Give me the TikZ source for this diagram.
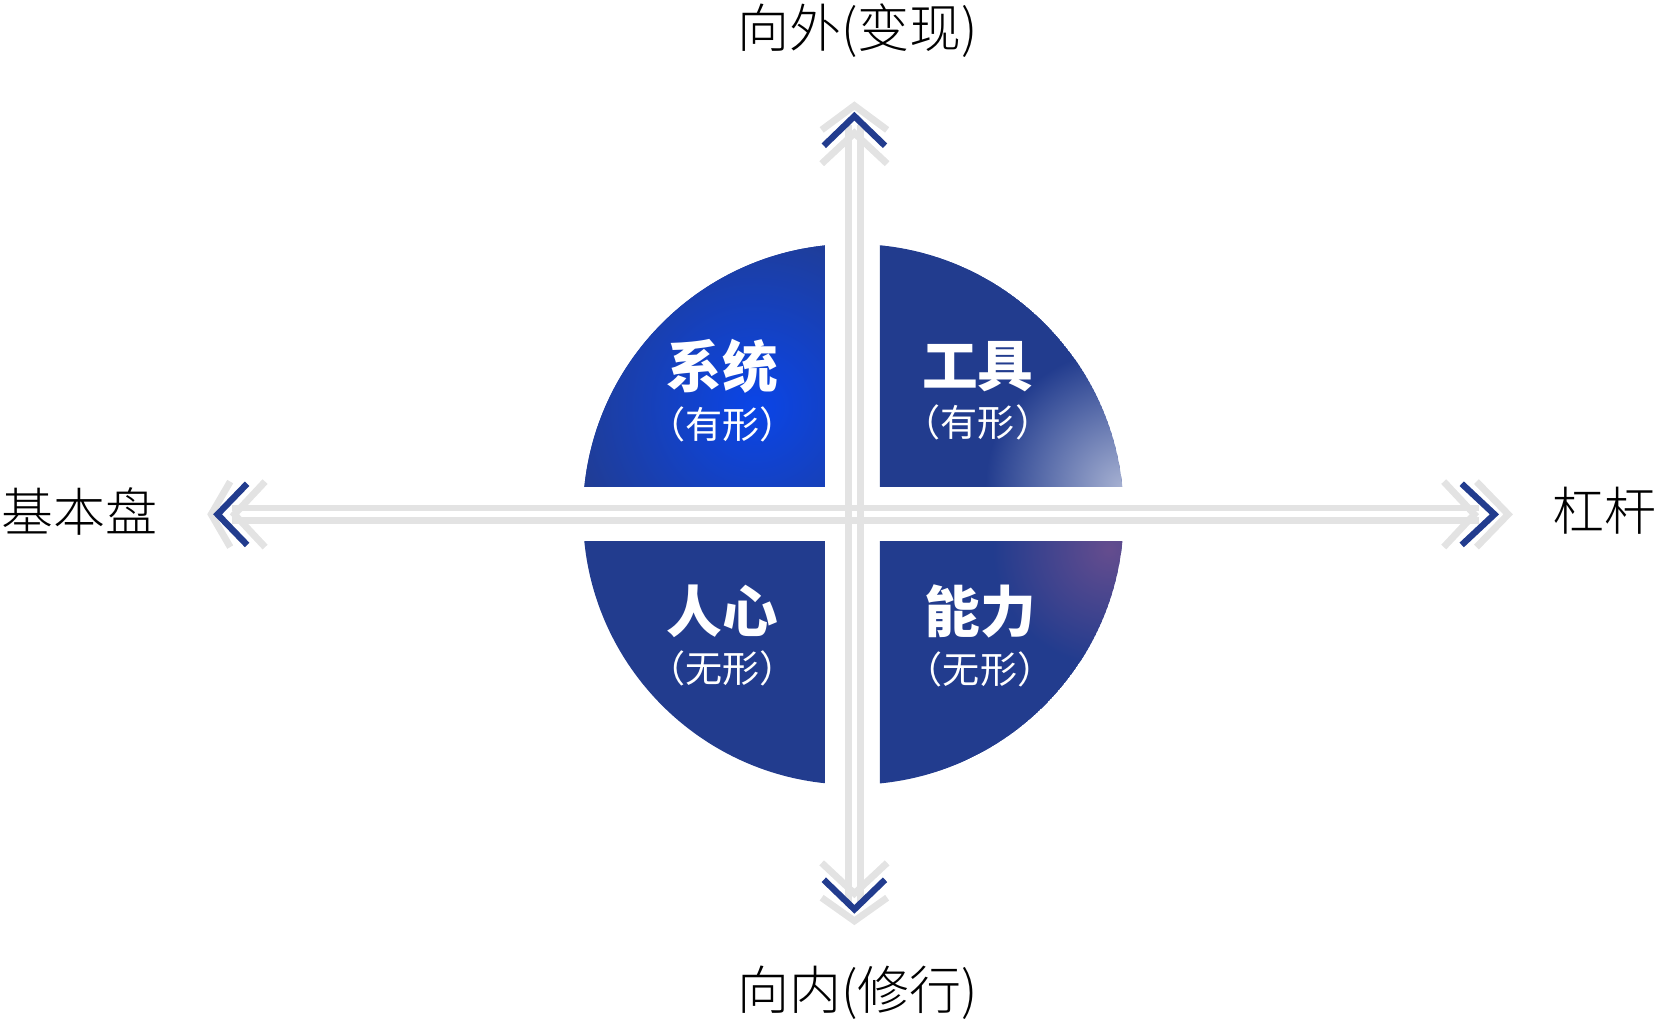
\documentclass[tikz,border=0pt]{standalone}
\usepackage{fontspec}
\setmainfont{Noto Sans CJK SC}
\newfontfamily\cjk{Noto Sans CJK SC}
\newfontfamily\cjklight{Noto Sans CJK SC Light}
\usetikzlibrary{positioning}
\definecolor{navy}{HTML}{223C8E}
\definecolor{brightblue}{HTML}{0A45E8}
\definecolor{railgray}{HTML}{E3E3E3}

\begin{document}
\begin{tikzpicture}[x=0.02cm,y=-0.02cm,
    rail/.style={railgray,line width=0.13cm},
    tipgray/.style={railgray,line width=0.13cm},
    tipblue/.style={navy,line width=0.12cm},
    axislabel/.style={font=\fontsize{28}{31}\selectfont\cjklight},
    title/.style={white,font=\fontsize{30}{33}\selectfont\bfseries\cjk},
    sub/.style={white,font=\fontsize{20}{23}\selectfont\cjk}]
    \useasboundingbox (0,0) rectangle (1568,970);

    % quadrants
    \begin{scope}
        \clip (808,487) circle [radius=256*0.02cm];
        \begin{scope}
            \clip (551,231) rectangle (781,461);
            \fill[navy] (808,487) circle [radius=256*0.02cm];
            \shade[inner color=brightblue,outer color=navy] (715,385) circle [radius=190*0.02cm];
        \end{scope}
        \begin{scope}
            \clip (833,231) rectangle (1064,461);
            \fill[navy] (808,487) circle [radius=256*0.02cm];
            \shade[inner color=navy!40!white,outer color=navy] (1063,461) circle [radius=130*0.02cm];
        \end{scope}
        \begin{scope}
            \clip (551,513) rectangle (781,744);
            \fill[navy] (808,487) circle [radius=256*0.02cm];
        \end{scope}
        \begin{scope}
            \clip (833,513) rectangle (1064,744);
            \fill[navy] (808,487) circle [radius=256*0.02cm];
            \shade[inner color=navy!75!purple!85!white,outer color=navy] (1050,520) circle [radius=110*0.02cm];
        \end{scope}
    \end{scope}

    % axes
    \coordinate (W) at (200,487);
    \coordinate (E) at (1415,487);
    \coordinate (N) at (809,100);
    \coordinate (S) at (809,872);
    \draw[rail] (220,481) -- (1400,481);
    \draw[rail] (220,493) -- (1400,493);
    \draw[rail] (803,118) -- (803,858);
    \draw[rail] (815,118) -- (815,858);

    % arrow tips
    \draw[tipgray] (778,123) -- (N) -- (840,123);
    \draw[tipgray] (778,155) -- (809,126) -- (840,155);
    \draw[tipblue] (780,138) -- (809,110) -- (838,138);
    \draw[tipgray] (778,850) -- (S) -- (840,850);
    \draw[tipgray] (778,817) -- (809,846) -- (840,817);
    \draw[tipblue] (780,833) -- (809,861) -- (838,833);
    \draw[tipgray] (218,456) -- (W) -- (218,518);
    \draw[tipgray] (251,456) -- (222,487) -- (251,518);
    \draw[tipblue] (234,458) -- (206,487) -- (234,516);
    \draw[tipgray] (1398,456) -- (1428,487) -- (1398,518);
    \draw[tipgray] (1367,456) -- (1396,487) -- (1367,518);
    \draw[tipblue] (1384,458) -- (E) -- (1384,516);

    % labels
    \node[axislabel] (out) at (812,29) {向外(变现)};
    \node[axislabel] (in) at (812,940) {向内(修行)};
    \node[axislabel] (base) at (75,484) {基本盘};
    \node[axislabel] (lever) at (1519,484) {杠杆};

    \node[title] (sys) at (684,347) {系统};
    \node[sub,below=0pt of sys] (sysform) {（有形）};
    \node[title] (tool) at (926,347) {工具};
    \node[sub,below=0pt of tool] (toolform) {（有形）};
    \node[title] (heart) at (684,579) {人心};
    \node[sub,below=0pt of heart] (heartform) {（无形）};
    \node[title] (skill) at (928,579) {能力};
    \node[sub,below=0pt of skill] (skillform) {（无形）};
\end{tikzpicture}
\end{document}
